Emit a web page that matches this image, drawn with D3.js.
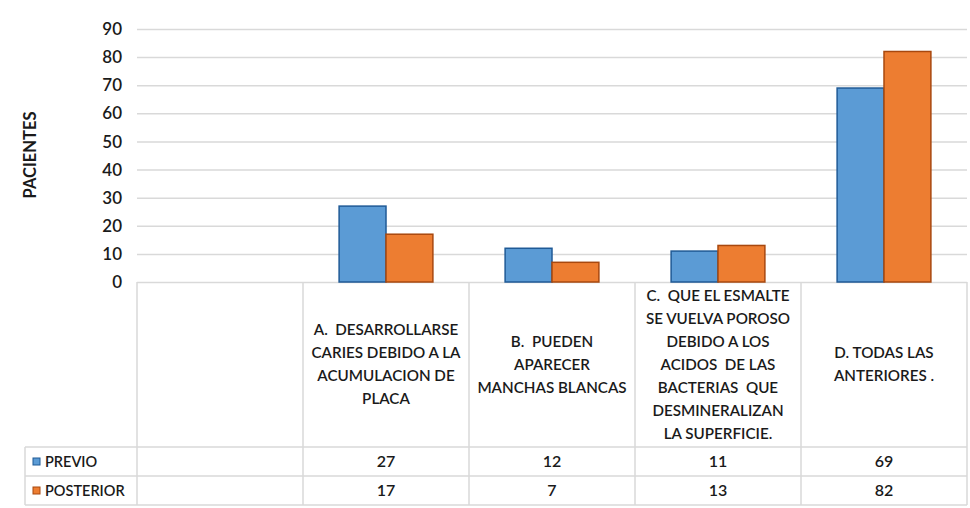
<!DOCTYPE html>
<html>
<head>
<meta charset="utf-8">
<script src="https://cdn.jsdelivr.net/npm/d3@7"></script>
<style>
  html, body { margin: 0; padding: 0; background: #fff; }
  svg text { font-family: Lato, "Open Sans", sans-serif; fill: #1a1a1a; white-space: pre; }
</style>
</head>
<body>
<div id="chart"></div>
<script>
// Column chart with data table (Excel style)

const categories = ["", "A", "B", "C", "D"];
const categoryLines = [
    [],
    ["A.  DESARROLLARSE", "CARIES DEBIDO A LA", "ACUMULACION DE", "PLACA"],
    ["B.  PUEDEN", "APARECER", "MANCHAS BLANCAS"],
    ["C.  QUE EL ESMALTE", "SE VUELVA POROSO", "DEBIDO A LOS", "ACIDOS  DE LAS", "BACTERIAS  QUE", "DESMINERALIZAN", "LA SUPERFICIE."],
    ["D. TODAS LAS", "ANTERIORES ."]
];
const seriesNames = ["PREVIO", "POSTERIOR"];
const previo = [null, 27, 12, 11, 69];
const posterior = [null, 17, 7, 13, 82];
const yTicks = [0, 10, 20, 30, 40, 50, 60, 70, 80, 90];

const fills = ["#5b9bd5", "#ed7d31"];
const strokes = ["#1f5a96", "#a8480e"];
const gridColor = "#d9d9d9";

const W = 970, H = 508;
const plotLeft = 137, plotRight = 967, plotTop = 29, plotBottom = 282;
const headerBottom = 447, row1Bottom = 476, row2Bottom = 505, tableLeft = 25;

const svg = d3.select("#chart").append("svg")
    .attr("width", W).attr("height", H);

const x = d3.scaleBand().domain(categories).range([plotLeft, plotRight]).padding(0);
const xs = d3.scaleBand().domain(seriesNames).range([0, x.bandwidth()])
    .paddingInner(0).paddingOuter(0.77);
const y = d3.scaleLinear().domain([0, 90]).range([plotBottom, plotTop]);

// gridlines
svg.append("g").selectAll("line").data(yTicks).enter().append("line")
    .attr("x1", plotLeft).attr("x2", plotRight)
    .attr("y1", d => y(d) + 0.5).attr("y2", d => y(d) + 0.5)
    .attr("stroke", gridColor).attr("stroke-width", 1.5);

// y tick labels
svg.append("g").selectAll("text").data(yTicks).enter().append("text")
    .attr("x", 122).attr("y", d => y(d))
    .attr("dy", "0.36em")
    .attr("text-anchor", "end")
    .attr("font-size", 17)
    .attr("font-weight", 600)
    .text(d => d);

// y axis title
svg.append("text")
    .attr("transform", `translate(30,155) rotate(-90)`)
    .attr("text-anchor", "middle")
    .attr("dy", "0.36em")
    .attr("font-size", 16.5)
    .attr("font-weight", 700)
    .text("PACIENTES");

// bars
const seriesData = [previo, posterior];
seriesData.forEach((vals, si) => {
    svg.append("g").selectAll("rect")
        .data(categories.map((c, i) => ({ c, v: vals[i] })).filter(d => d.v != null))
        .enter().append("rect")
        .attr("x", d => x(d.c) + xs(seriesNames[si]))
        .attr("y", d => y(d.v))
        .attr("width", xs.bandwidth())
        .attr("height", d => y(0) - y(d.v))
        .attr("fill", fills[si])
        .attr("stroke", strokes[si])
        .attr("stroke-width", 1.5);
});

// data table lines
const tbl = svg.append("g").attr("stroke", gridColor).attr("stroke-width", 1.5);
categories.forEach(c => {
    tbl.append("line")
        .attr("x1", x(c)).attr("x2", x(c))
        .attr("y1", plotBottom).attr("y2", row2Bottom);
});
tbl.append("line").attr("x1", plotRight).attr("x2", plotRight)
    .attr("y1", plotBottom).attr("y2", row2Bottom);
tbl.append("line").attr("x1", tableLeft).attr("x2", tableLeft)
    .attr("y1", headerBottom).attr("y2", row2Bottom);
[headerBottom, row1Bottom, row2Bottom].forEach(yy => {
    tbl.append("line").attr("x1", tableLeft).attr("x2", plotRight)
        .attr("y1", yy).attr("y2", yy);
});

// category header labels
const lineH = 23;
categories.forEach((c, i) => {
    const lines = categoryLines[i];
    const cy = (plotBottom + headerBottom) / 2;
    const t = svg.append("text")
        .attr("text-anchor", "middle")
        .attr("font-size", 15.2)
        .attr("font-weight", 600);
    lines.forEach((ln, j) => {
        t.append("tspan")
            .attr("x", x(c) + x.bandwidth() / 2)
            .attr("y", cy + (j - (lines.length - 1) / 2) * lineH)
            .attr("dy", "0.36em")
            .text(ln);
    });
});

// table rows
const rowMid = [(headerBottom + row1Bottom) / 2, (row1Bottom + row2Bottom) / 2];
seriesData.forEach((vals, si) => {
    svg.append("rect")
        .attr("x", 33).attr("y", rowMid[si] - 3.5)
        .attr("width", 7).attr("height", 7)
        .attr("fill", fills[si]).attr("stroke", strokes[si]).attr("stroke-width", 1);
    svg.append("text")
        .attr("x", 45).attr("y", rowMid[si]).attr("dy", "0.36em")
        .attr("font-size", 14.5).attr("font-weight", 600)
        .text(seriesNames[si]);
    categories.forEach((c, i) => {
        if (vals[i] == null) return;
        svg.append("text")
            .attr("x", x(c) + x.bandwidth() / 2)
            .attr("y", rowMid[si]).attr("dy", "0.36em")
            .attr("text-anchor", "middle")
            .attr("font-size", 16).attr("font-weight", 600)
            .text(vals[i]);
    });
});
</script>
</body>
</html>
